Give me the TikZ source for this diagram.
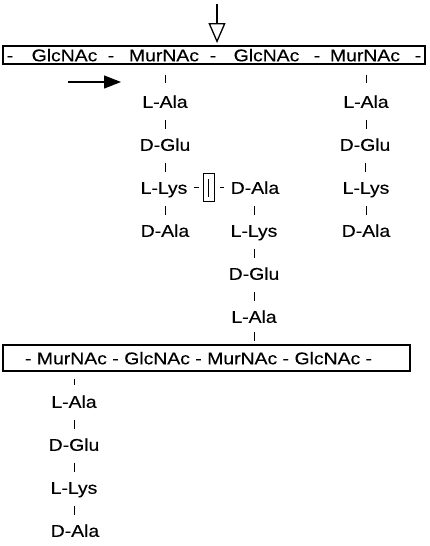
\documentclass[tikz,border=0pt]{standalone}
\usepackage{fontspec}
\setmainfont[FakeStretch=1.14, FakeBold=0.3]{Liberation Sans}
\usetikzlibrary{arrows.meta}
\begin{document}
\begin{tikzpicture}[x=1pt,y=-1pt,
  lab/.style={font=\fontsize{17}{20}\selectfont, inner sep=0pt, text height=12.2pt, text depth=0pt, anchor=south},
  chainbox/.style={draw, line width=1.3pt, inner sep=0pt},
  bond/.style={line width=1pt, shorten <=11.5pt, shorten >=9.5pt},
  hbond/.style={line width=1.4pt},
  bridgebox/.style={draw, line width=1pt, inner sep=0pt, minimum width=11pt, minimum height=28pt}
]
\useasboundingbox (0,0) rectangle (429,546);

% top glycan strand
\node[chainbox, minimum width=422pt, minimum height=18pt] (topbox) at (214,55) {};
\node[lab] (t1) at (10,61.5) {-};
\node[lab] (g1) at (64.5,61.5) {GlcNAc};
\node[lab] (t2) at (111,61.5) {-};
\node[lab] (m1) at (164,61.5) {MurNAc};
\node[lab] (t3) at (213,61.5) {-};
\node[lab] (g2) at (266.5,61.5) {GlcNAc};
\node[lab] (t4) at (317,61.5) {-};
\node[lab] (m2) at (365,61.5) {MurNAc};
\node[lab] (t5) at (418,61.5) {-};

% left stem peptide
\node[lab] (la1) at (165,108) {L-Ala};
\node[lab] (dg1) at (165,151) {D-Glu};
\node[lab] (ll1) at (164,194) {L-Lys};
\node[lab] (da1) at (165,237) {D-Ala};

% right stem peptide
\node[lab] (la2) at (366,108) {L-Ala};
\node[lab] (dg2) at (365,151) {D-Glu};
\node[lab] (ll2) at (366,194) {L-Lys};
\node[lab] (da2) at (366,237) {D-Ala};

% cross-bridge
\node[bridgebox] (bridge) at (208.5,187.5) {\rule[-9pt]{1.3pt}{18pt}};

% middle stem peptide (from lower strand)
\node[lab] (da3) at (255,194) {D-Ala};
\node[lab] (ll3) at (254,237) {L-Lys};
\node[lab] (dg3) at (254,280) {D-Glu};
\node[lab] (la3) at (254,323) {L-Ala};

% bottom glycan strand
\node[chainbox, minimum width=407pt, minimum height=26pt] (botbox) at (206.5,358) {};
\node[lab] (b1) at (28.2,364.5) {-};
\node[lab] (m3) at (71.9,364.5) {MurNAc};
\node[lab] (b2) at (115.5,364.5) {-};
\node[lab] (g3) at (157.1,364.5) {GlcNAc};
\node[lab] (b3) at (198.5,364.5) {-};
\node[lab] (m4) at (242.2,364.5) {MurNAc};
\node[lab] (b4) at (285.8,364.5) {-};
\node[lab] (g4) at (327.4,364.5) {GlcNAc};
\node[lab] (b5) at (368.8,364.5) {-};

% bottom stem peptide
\node[lab] (la4) at (74,408) {L-Ala};
\node[lab] (dg4) at (74,451) {D-Glu};
\node[lab] (ll4) at (74,494) {L-Lys};
\node[lab] (da4) at (75,537) {D-Ala};

% bonds
\draw[bond, shorten <=13pt, shorten >=12.5pt] (m1.south -| la1.north) -- (la1.north);
\draw[bond] (la1.south) -- (dg1.north);
\draw[bond] (dg1.south) -- (dg1.south |- ll1.north);
\draw[bond] (ll1.south -| la1.south) -- (la1.south |- da1.north);

\draw[bond, shorten <=13pt, shorten >=12.5pt] (m2.south -| la2.north) -- (la2.north);
\draw[bond] (la2.south) -- (la2.south |- dg2.north);
\draw[bond] (dg2.south) -- (dg2.south |- ll2.north);
\draw[bond] (ll2.south) -- (da2.north);

\draw[bond] (da3.south -| ll3.north) -- (ll3.north);
\draw[bond] (ll3.south) -- (dg3.north);
\draw[bond] (dg3.south) -- (la3.north);
\draw[bond, shorten <=9pt, shorten >=3pt] (la3.south) -- (botbox.north -| la3.south);

\draw[bond, shorten <=7pt, shorten >=10pt] (botbox.south -| la4.north) -- (la4.north);
\draw[bond] (la4.south) -- (dg4.north);
\draw[bond] (dg4.south) -- (ll4.north);
\draw[bond] (ll4.south) -- (ll4.south |- da4.north);

\draw[hbond, shorten <=6pt, shorten >=4pt] (ll1.east |- bridge.center) -- (bridge.west);
\draw[hbond, shorten <=5pt, shorten >=6.5pt] (bridge.east) -- (da3.west |- bridge.center);

% arrows
\coordinate (cuttop) at (217,4);
\coordinate (cutend) at (217,43);
\draw[line width=1.3pt, -{Triangle[open, length=20pt, width=17pt]}] (cuttop) -- (cutend);
\coordinate (arrstart) at (68,82);
\coordinate (arrend) at (121,82);
\draw[line width=1.2pt, -{Triangle[length=17pt, width=13pt]}] (arrstart) -- (arrend);
\end{tikzpicture}
\end{document}
